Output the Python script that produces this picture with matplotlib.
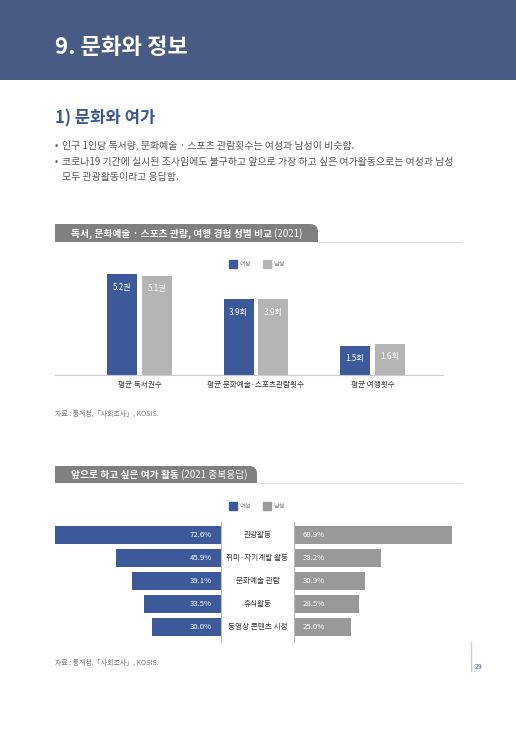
import matplotlib
matplotlib.use("Agg")
import matplotlib.pyplot as plt
import matplotlib.transforms as mtransforms
from matplotlib.patches import Rectangle, FancyBboxPatch, Patch

plt.rcParams['font.family'] = ['Noto Sans CJK KR', 'DejaVu Sans']

# ---- data ----
cat1 = ["평균 독서권수", "평균 문화예술·스포츠관람횟수", "평균 여행횟수"]
female1 = [5.2, 3.9, 1.5]
male1 = [5.1, 3.9, 1.6]
unit1 = ["권", "회", "회"]

cat2 = ["관광활동", "취미·자기계발 활동", "문화예술 관람", "휴식활동", "동영상 콘텐츠 시청"]
female2 = [72.6, 45.9, 39.1, 33.5, 30.0]
male2 = [68.9, 38.2, 30.9, 28.5, 25.0]

series = ["여성", "남성"]

BLUE = "#3c5a9a"
GRAY1 = "#b4b4b4"
GRAY2 = "#999999"
HEAD = "#475b85"
TAB = "#808080"

W, H = 516, 729
fig = plt.figure(figsize=(W / 100, H / 100), dpi=100)
fig.patch.set_facecolor("white")


def box(l, t, r, b):
    # pixel box (from top-left) -> figure fraction rect
    return [l / W, 1 - b / H, (r - l) / W, (b - t) / H]


# ---- page layer in pixel units ----
bg = fig.add_axes([0, 0, 1, 1], zorder=0)
bg.set_xlim(0, W)
bg.set_ylim(H, 0)
bg.axis("off")

bg.add_patch(Rectangle((0, 0), W, 80, color=HEAD, lw=0))
bg.text(55, 47, "9. 문화와 정보", color="white", fontsize=16, fontweight="bold", va="center")
bg.text(55, 118, "1) 문화와 여가", color="#3a5795", fontsize=12, fontweight="bold", va="center")

bullets = [
    (146, "인구 1인당 독서량, 문화예술 · 스포츠 관람횟수는 여성과 남성이 비슷함.", True),
    (162, "코로나19 기간에 실시된 조사임에도 불구하고 앞으로 가장 하고 싶은 여가활동으로는 여성과 남성", True),
    (177, "모두 관광활동이라고 응답함.", False),
]
for y, txt, dot in bullets:
    if dot:
        bg.text(55, y, "•", color="#3a5795", fontsize=7, va="center")
    bg.text(62, y, txt, color="#555555", fontsize=7.1, va="center")


def tab(x0, x1, y0, y1, bold, light):
    r = 8
    bg.add_patch(FancyBboxPatch((x0, y0), x1 - x0, y1 - y0,
                                boxstyle="round,pad=0,rounding_size=%d" % r, color=TAB, lw=0))
    bg.add_patch(Rectangle((x0, y0), x1 - x0 - r, y1 - y0, color=TAB, lw=0))
    bg.add_patch(Rectangle((x0, y0 + r), x1 - x0, y1 - y0 - r, color=TAB, lw=0))
    bg.plot([x1, 462], [y1, y1], color="#dddddd", lw=0.8)
    t = bg.text(x0 + 16, (y0 + y1) / 2 + 0.5, bold, color="white", fontsize=7,
                fontweight="bold", va="center")
    bg.annotate(" " + light, xycoords=t, xy=(1, 0.5), va="center", color="white", fontsize=7)


tab(55, 318, 224, 242, "독서, 문화예술 · 스포츠 관람, 여행 경험 성별 비교", "(2021)")
tab(55, 257, 466, 483, "앞으로 하고 싶은 여가 활동", "(2021 중복응답)")

bg.text(55, 414, "자료 : 통계청,「사회조사」, KOSIS.", color="#777777", fontsize=5, va="center")
bg.text(55, 663, "자료 : 통계청,「사회조사」, KOSIS.", color="#777777", fontsize=5, va="center")
bg.plot([471, 471], [642, 671], color="#c8cde0", lw=1)
bg.text(475, 667, "29", color="#3a5795", fontsize=5, va="center")

# ---- chart 1 ----
ax1 = fig.add_axes(box(55, 255, 443, 375), zorder=1)
xs = range(len(cat1))
bw = 0.2575
ax1.bar([x - 0.15 for x in xs], female1, bw, color=BLUE)
ax1.bar([x + 0.15 for x in xs], male1, bw, color=GRAY1)
for x, f, m, u in zip(xs, female1, male1, unit1):
    for dx, v in ((-0.15, f), (0.15, m)):
        ax1.annotate(f"{v:.1f}{u}", (x + dx, v), xytext=(0, -13), textcoords="offset pixels",
                     ha="center", va="center", color="white", fontsize=5.8)
ax1.set_xlim(-0.725, 2.605)
ax1.set_ylim(0, 120 / 19.42)
ax1.set_xticks(list(xs))
ax1.set_xticklabels(cat1, fontsize=5.5, color="#333333")
ax1.tick_params(axis="x", length=0, pad=4)
ax1.set_yticks([])
for s in ("top", "right", "left"):
    ax1.spines[s].set_visible(False)
ax1.spines["bottom"].set_color("#cccccc")
ax1.spines["bottom"].set_linewidth(0.8)
ax1.patch.set_alpha(0)

leg_kw = dict(frameon=False, ncol=2, fontsize=4.5, handlelength=1.4, handleheight=1.4,
              columnspacing=1.8, handletextpad=0.4, labelcolor="#888888", loc="center")
fig.legend([Patch(color=BLUE), Patch(color=GRAY1)], series,
           bbox_to_anchor=(257 / W, 1 - 264 / H), **leg_kw)

# ---- chart 2 ----
s = 2.287
XMAX = 73.5
y_top = -13 / 23
y_bot = 107 / 23
axL = fig.add_axes(box(221 - XMAX * s, 522, 221, 642), zorder=1)
axR = fig.add_axes(box(294, 522, 294 + XMAX * s, 642), zorder=1)
rows = range(len(cat2))
axL.barh(list(rows), female2, 0.74, color=BLUE)
axR.barh(list(rows), male2, 0.74, color=GRAY2)
axL.set_xlim(XMAX, 0)
axR.set_xlim(0, XMAX)
for ax in (axL, axR):
    ax.set_ylim(y_bot, y_top)
    ax.set_xticks([])
    ax.set_yticks([])
    ax.patch.set_alpha(0)
    for sp in ax.spines.values():
        sp.set_visible(False)
axL.spines["right"].set_visible(True)
axL.spines["right"].set_color("#bbbbbb")
axR.spines["left"].set_visible(True)
axR.spines["left"].set_color("#bbbbbb")

for r, f, m, c in zip(rows, female2, male2, cat2):
    axL.annotate(f"{f:.1f}%", (0, r), xytext=(-9, 0), textcoords="offset pixels",
                 ha="right", va="center", color="white", fontsize=5.6)
    axR.annotate(f"{m:.1f}%", (0, r), xytext=(9, 0), textcoords="offset pixels",
                 ha="left", va="center", color="white", fontsize=5.6)
    trans = mtransforms.blended_transform_factory(fig.transFigure, axL.transData)
    fig.text(257.5 / W, r, c, transform=trans, ha="center", va="center",
             fontsize=5.5, color="#333333")

fig.legend([Patch(color=BLUE), Patch(color=GRAY2)], series,
           bbox_to_anchor=(257 / W, 1 - 506 / H), **leg_kw)

fig.savefig("out.png", dpi=100)
